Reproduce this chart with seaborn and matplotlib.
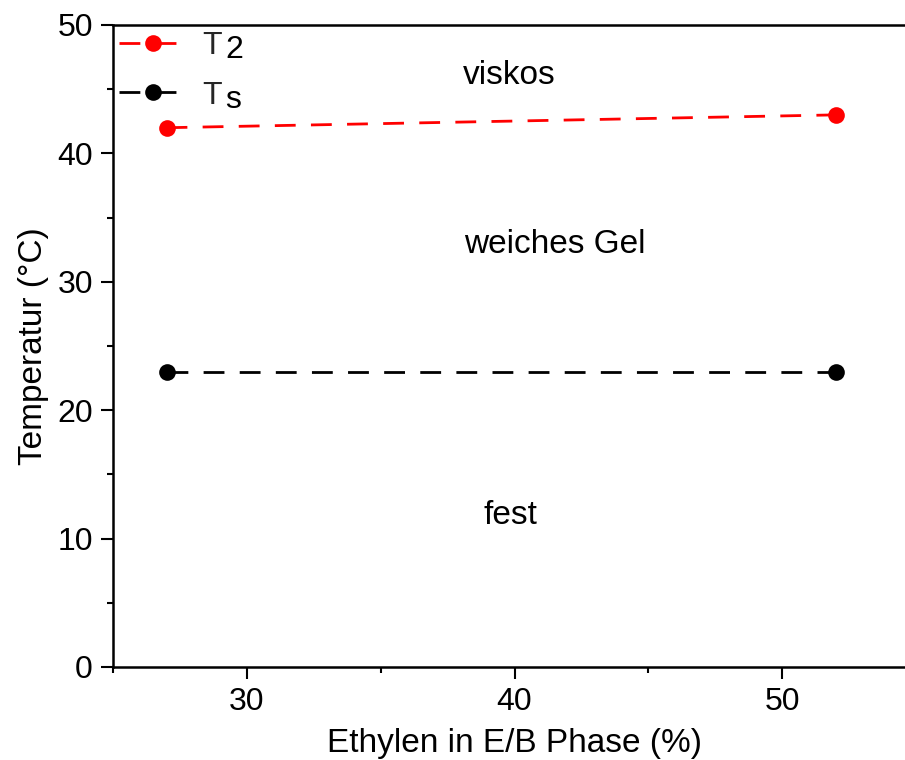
import matplotlib
matplotlib.use("Agg")
import matplotlib.pyplot as plt
import seaborn as sns
import pandas as pd

ethylen = [27, 52]
t2 = [42, 43]
ts = [23, 23]
series_labels = ["T", "T"]
series_subs = ["2", "s"]
region_labels = ["viskos", "weiches Gel", "fest"]
region_x = [39.8, 41.5, 39.85]
region_y = [46.1, 32.9, 11.8]

sns.set_theme(style="ticks")
plt.rcParams['font.family'] = ['Liberation Sans', 'DejaVu Sans']

fig = plt.figure(figsize=(9.05, 7.6), dpi=100)
ax = fig.add_axes([113/905, 1-667/760, (916-113)/905, (667-25)/760])

df = pd.DataFrame({"x": ethylen * 2, "y": t2 + ts,
                   "s": ["T2"] * 2 + ["Ts"] * 2})

for key, lab, col in zip(["T2", "Ts"], series_labels, ["#ff0000", "#000000"]):
    sub = df[df["s"] == key]
    sns.lineplot(data=sub, x="x", y="y", ax=ax, color=col, marker="o",
                 markersize=12, markeredgewidth=0, linewidth=2,
                 dashes=False, label=lab)
for line in ax.get_lines():
    line.set_linestyle((0, (7.5, 5.5)))

for t, x, y in zip(region_labels, region_x, region_y):
    ax.text(x, y, t, fontsize=24, ha="center", va="center", color="black")

ax.set_xlim(25, 55)
ax.set_ylim(0, 50)
ax.set_xticks([30, 40, 50])
ax.set_xticks([25, 35, 45], minor=True)
ax.set_yticks([0, 10, 20, 30, 40, 50])
ax.set_yticks([5, 15, 25, 35, 45], minor=True)
ax.tick_params(axis="both", which="major", direction="out", length=8.5, width=1.5,
               labelsize=23, colors="black", pad=6)
ax.tick_params(axis="both", which="minor", direction="out", length=4, width=1.5,
               colors="black")
for sp in ax.spines.values():
    sp.set_linewidth(1.8)
    sp.set_color("black")
ax.set_xlabel("Ethylen in E/B Phase (%)", fontsize=24, labelpad=8, color="black")
ax.set_ylabel("Temperatur (°C)", fontsize=24, labelpad=6, color="black")

leg = ax.legend(loc="upper left", frameon=False, fontsize=23, handlelength=2.1,
                borderaxespad=0.0, borderpad=0.2, labelspacing=0.6,
                handletextpad=0.5)

fig.canvas.draw()
for txt, s in zip(leg.get_texts(), series_subs):
    bb = txt.get_window_extent()
    fig.text(bb.x1 + 3, bb.y0 - 4, s, transform=None, fontsize=23,
             ha="left", va="bottom", color="black")

fig.savefig("out.png", dpi=100)
